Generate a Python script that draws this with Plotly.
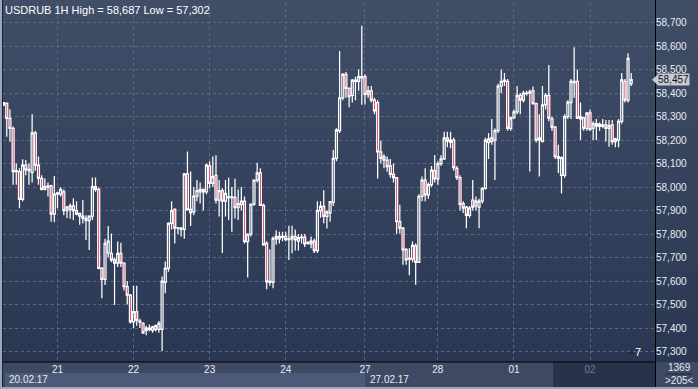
import plotly.graph_objects as go

# ---------------- data ----------------
opens = [58.350,58.356,58.292,58.250,58.066,58.066,57.948,58.094,58.070,58.063,
         58.231,58.094,58.037,57.990,58.000,58.005,57.885,57.970,57.970,57.980,
         57.900,57.905,57.920,57.900,57.888,57.867,57.857,57.857,57.877,58.002,
         57.990,57.654,57.607,57.720,57.718,57.690,57.676,57.718,57.676,57.576,
         57.540,57.427,57.470,57.430,57.420,57.390,57.400,57.390,57.395,57.395,
         57.395,57.595,57.654,57.846,57.905,57.825,57.820,57.820,58.056,57.905,
         57.895,57.962,57.980,57.990,57.980,58.090,58.016,58.050,57.945,57.985,
         57.940,57.955,57.958,57.956,57.913,57.925,57.940,57.768,57.800,57.928,
         58.030,58.060,57.922,57.760,57.600,57.595,57.780,57.780,57.786,57.790,
         57.776,57.780,57.790,57.770,57.785,57.787,57.760,57.758,57.770,57.730,
         57.900,57.918,57.875,57.890,57.935,58.122,58.240,58.380,58.480,58.420,
         58.390,58.450,58.450,58.465,58.470,58.395,58.410,58.370,58.360,58.150,
         58.130,58.115,58.090,58.054,58.040,57.853,57.825,57.735,57.693,57.693,
         57.750,57.680,57.960,58.030,57.967,58.010,58.070,58.035,58.100,58.120,
         58.209,58.200,58.200,58.080,58.040,57.930,57.915,57.880,57.945,57.920,
         57.915,57.940,57.995,58.190,58.195,58.200,58.240,58.430,58.450,58.450,
         58.250,58.296,58.320,58.390,58.370,58.398,58.400,58.410,58.355,58.200,
         58.195,58.350,58.390,58.290,58.255,58.130,58.050,58.050,58.300,58.360,
         58.445,58.450,58.290,58.295,58.250,58.316,58.250,58.270,58.268,58.258,
         58.265,58.250,58.265,58.193,58.200,58.280,58.450,58.370,58.440]
highs = [58.362,58.360,58.330,58.258,58.100,58.080,58.118,58.115,58.100,58.310,
         58.240,58.130,58.050,58.037,58.020,58.010,58.047,57.980,57.999,57.990,
         57.920,57.930,57.952,57.940,57.890,57.945,57.880,57.880,58.041,58.041,
         57.998,57.660,57.780,57.834,57.803,57.700,57.768,57.763,57.680,57.600,
         57.545,57.580,57.580,57.440,57.425,57.410,57.415,57.410,57.415,57.430,
         57.620,57.683,57.850,57.940,57.910,57.830,57.830,58.060,58.151,58.066,
         58.000,58.030,58.020,57.990,58.100,58.110,58.130,58.136,58.030,57.995,
         58.030,58.040,58.000,58.036,57.990,58.000,57.960,57.800,57.930,58.030,
         58.104,58.080,57.930,57.770,57.735,57.790,57.816,57.810,57.810,57.810,
         57.835,57.835,57.820,57.800,57.800,57.800,57.770,57.790,57.780,57.940,
         57.940,57.987,57.900,57.940,58.158,58.250,58.579,58.485,58.490,58.425,
         58.460,58.470,58.500,58.687,58.480,58.430,58.430,58.380,58.370,58.197,
         58.140,58.130,58.120,58.100,58.040,57.925,57.830,57.740,57.740,57.768,
         57.760,57.970,58.045,58.080,58.020,58.090,58.137,58.110,58.135,58.236,
         58.236,58.235,58.210,58.090,58.050,57.940,57.920,57.920,58.030,57.960,
         57.950,58.000,58.210,58.230,58.290,58.250,58.440,58.500,58.485,58.460,
         58.300,58.330,58.430,58.400,58.410,58.410,58.415,58.428,58.360,58.310,
         58.430,58.400,58.520,58.300,58.260,58.180,58.130,58.310,58.370,58.460,
         58.595,58.500,58.360,58.300,58.320,58.330,58.280,58.290,58.275,58.290,
         58.285,58.286,58.285,58.210,58.290,58.485,58.460,58.570,58.485]
lows = [58.345,58.214,58.193,58.010,58.010,57.910,57.940,58.050,58.010,58.020,
        58.070,58.010,57.985,57.985,57.960,57.853,57.850,57.910,57.960,57.880,
        57.868,57.865,57.860,57.880,57.840,57.845,57.775,57.732,57.860,57.980,
        57.650,57.527,57.583,57.700,57.680,57.498,57.660,57.660,57.560,57.500,
        57.420,57.400,57.410,57.400,57.375,57.370,57.385,57.380,57.385,57.380,
        57.302,57.548,57.640,57.820,57.760,57.800,57.790,57.780,57.900,57.834,
        57.880,57.940,57.930,57.900,57.970,57.995,58.000,57.930,57.875,57.720,
        57.875,57.860,57.810,57.866,57.860,57.900,57.760,57.615,57.790,57.920,
        58.020,57.920,57.750,57.565,57.580,57.570,57.755,57.760,57.770,57.770,
        57.690,57.718,57.730,57.730,57.760,57.745,57.755,57.740,57.720,57.720,
        57.870,57.846,57.824,57.852,57.920,58.110,58.230,58.370,58.380,58.340,
        58.360,58.370,58.410,58.350,58.352,58.380,58.360,58.310,58.037,58.100,
        58.080,58.065,58.040,58.020,57.800,57.803,57.670,57.670,57.625,57.680,
        57.584,57.680,57.940,57.940,57.950,58.000,58.020,58.010,58.090,58.115,
        58.170,58.165,58.070,58.030,57.900,57.890,57.825,57.870,57.900,57.900,
        57.825,57.930,57.990,58.120,58.180,58.030,58.230,58.400,58.430,58.240,
        58.240,58.290,58.310,58.310,58.360,58.390,58.066,58.350,58.190,58.045,
        58.190,58.330,58.280,58.240,58.120,58.060,57.973,58.040,58.290,58.290,
        58.380,58.290,58.200,58.240,58.240,58.240,58.200,58.200,58.240,58.250,
        58.194,58.172,58.180,58.170,58.170,58.270,58.360,58.360,58.430]
closes = [58.360,58.292,58.250,58.066,58.070,57.948,58.094,58.073,58.075,58.231,
          58.094,58.037,57.990,58.002,58.005,57.885,57.970,57.975,57.990,57.900,
          57.915,57.920,57.900,57.885,57.877,57.877,57.867,57.877,58.002,57.990,
          57.654,57.607,57.760,57.770,57.690,57.676,57.718,57.676,57.576,57.540,
          57.427,57.470,57.433,57.425,57.380,57.400,57.395,57.405,57.410,57.420,
          57.600,57.654,57.846,57.900,57.825,57.826,57.825,58.056,57.903,57.890,
          57.962,57.985,57.990,57.980,58.094,58.016,58.045,57.945,57.985,57.940,
          57.973,57.958,57.955,57.913,57.930,57.940,57.768,57.800,57.928,58.030,
          58.060,57.922,57.754,57.597,57.595,57.782,57.790,57.790,57.790,57.776,
          57.780,57.790,57.775,57.785,57.787,57.758,57.765,57.770,57.730,57.900,
          57.918,57.875,57.895,57.938,58.122,58.243,58.380,58.480,58.420,58.385,
          58.455,58.455,58.470,58.470,58.395,58.410,58.370,58.324,58.150,58.122,
          58.115,58.087,58.054,58.040,57.853,57.825,57.733,57.690,57.698,57.752,
          57.680,57.960,58.030,57.967,58.010,58.072,58.035,58.100,58.120,58.209,
          58.196,58.190,58.083,58.040,57.926,57.910,57.880,57.912,57.915,57.940,
          57.940,57.995,58.200,58.205,58.210,58.240,58.430,58.450,58.455,58.250,
          58.295,58.320,58.390,58.370,58.400,58.400,58.405,58.355,58.200,58.210,
          58.350,58.390,58.293,58.255,58.130,58.122,58.125,58.300,58.362,58.450,
          58.450,58.293,58.300,58.250,58.315,58.245,58.270,58.260,58.258,58.265,
          58.250,58.262,58.193,58.205,58.280,58.456,58.370,58.548,58.457]

day_ticks = [17, 41, 65, 89, 114, 137, 161, 185]
day_labels = ["21", "22", "23", "24", "27", "28", "01", "<span style='color:#6f7d97'>02</span>"]
price_ticks = [57.3, 57.4, 57.5, 57.6, 57.7, 57.8, 57.9, 58.0, 58.1, 58.2, 58.3, 58.4, 58.5, 58.6, 58.7]
price_labels = ["57,300", "57,400", "57,500", "57,600", "57,700", "57,800", "57,900", "58,000",
                "58,100", "58,200", "58,300", "58,400", "58,500", "58,600", "58,700"]
title_text = "USDRUB 1H High = 58,687 Low = 57,302"
last_price = closes[-1]
last_label = "58,457"

x = list(range(len(opens)))

# ---------------- figure ----------------
W, H = 698, 389
ML, MR, MT, MB = 3, 43, 3, 27
PW, PH = W - ML - MR, H - MT - MB

def px(p):   # pixel x -> paper x
    return (p - ML) / PW

def py(p):   # pixel y -> paper y
    return (H - MB - p) / PH

FONT = "Liberation Sans, Arial, sans-serif"

fig = go.Figure()
fig.add_trace(go.Candlestick(
    x=x, open=opens, high=highs, low=lows, close=closes,
    increasing=dict(line=dict(color="#ffffff", width=1.25), fillcolor="rgba(0,0,0,0)"),
    decreasing=dict(line=dict(color="#ffffff", width=1.25), fillcolor="#e8103f"),
    whiskerwidth=0, hoverinfo="skip", showlegend=False,
))

shapes = []
# gradient background (styling only)
top_c = (64, 78, 104)
bot_c = (42, 55, 82)
n = 36
for k in range(n):
    t = (k + 0.5) / n
    c = tuple(int(round(top_c[j] + (bot_c[j] - top_c[j]) * t)) for j in range(3))
    y0p = (H - MB) * k / n
    y1p = (H - MB) * (k + 1) / n
    shapes.append(dict(type="rect", xref="paper", yref="paper", layer="below",
                       x0=px(0), x1=px(W), y0=py(y1p), y1=py(y0p) + 0.001,
                       fillcolor="rgb(%d,%d,%d)" % c, line=dict(width=0)))
# bottom strip
shapes.append(dict(type="rect", xref="paper", yref="paper", layer="below",
                   x0=px(0), x1=px(W), y0=py(H), y1=py(H - MB),
                   fillcolor="#3e4a64", line=dict(width=0)))
shapes.append(dict(type="rect", xref="paper", yref="paper", layer="below",
                   x0=px(5), x1=px(365), y0=py(387), y1=py(373),
                   fillcolor="#4c5a77", line=dict(width=0)))
shapes.append(dict(type="rect", xref="paper", yref="paper", layer="below",
                   x0=px(553), x1=px(655), y0=py(388), y1=py(362),
                   fillcolor="#28324a", line=dict(width=0)))
# borders
shapes.append(dict(type="rect", xref="paper", yref="paper", layer="above",
                   x0=px(0), x1=px(2), y0=py(H), y1=py(0),
                   fillcolor="#9ba7bc", line=dict(width=0)))
shapes.append(dict(type="rect", xref="paper", yref="paper", layer="above",
                   x0=px(0), x1=px(W), y0=py(H), y1=py(387),
                   fillcolor="#9ba7bc", line=dict(width=0)))
shapes.append(dict(type="line", xref="paper", yref="paper", layer="above",
                   x0=px(2.5), x1=px(2.5), y0=py(387), y1=py(0),
                   line=dict(color="#1b2232", width=1)))
# axis separator lines
shapes.append(dict(type="line", xref="paper", yref="paper", layer="above",
                   x0=px(655.5), x1=px(655.5), y0=py(387), y1=py(0),
                   line=dict(color="#000000", width=1)))
shapes.append(dict(type="line", xref="paper", yref="paper", layer="above",
                   x0=px(3), x1=px(655.5), y0=py(362), y1=py(362),
                   line=dict(color="#000000", width=1)))
shapes.append(dict(type="line", xref="paper", yref="paper", layer="above",
                   x0=px(665), x1=px(692), y0=py(374), y1=py(374),
                   line=dict(color="#202a3d", width=1)))
# current price arrow
d = 5.5 / 235.0
shapes.append(dict(type="path", xref="paper", yref="y", layer="above",
                   path="M %f,%f L %f,%f L %f,%f Z" % (px(652), last_price, px(658), last_price + d,
                                                      px(658), last_price - d),
                   fillcolor="#c6cad3", line=dict(width=0)))
# small shift marker
shapes.append(dict(type="path", xref="paper", yref="paper", layer="above",
                   path="M %f,%f L %f,%f L %f,%f Z" % (px(627), py(354), px(633), py(351),
                                                      px(633), py(354)),
                   fillcolor="#1c2436", line=dict(width=0)))

ann = []
ann.append(dict(xref="paper", yref="paper", x=px(3), y=py(2), xanchor="left", yanchor="top",
                text=title_text, showarrow=False, font=dict(family=FONT, size=11, color="#ffffff")))
ann.append(dict(xref="paper", yref="paper", x=px(7), y=py(380), xanchor="left", yanchor="middle",
                text="20.02.17", showarrow=False, font=dict(family=FONT, size=10, color="#e8ecf3")))
ann.append(dict(xref="paper", yref="paper", x=px(368), y=py(380), xanchor="left", yanchor="middle",
                text="27.02.17", showarrow=False, font=dict(family=FONT, size=10, color="#e8ecf3")))
ann.append(dict(xref="paper", yref="paper", x=px(679), y=py(367.5), xanchor="center", yanchor="middle",
                text="1369", showarrow=False, font=dict(family=FONT, size=10, color="#e8ecf3")))
ann.append(dict(xref="paper", yref="paper", x=px(679), y=py(380.5), xanchor="center", yanchor="middle",
                text="&gt;205&lt;", showarrow=False, font=dict(family=FONT, size=10, color="#e8ecf3")))
ann.append(dict(xref="paper", yref="paper", x=px(638), y=py(352), xanchor="center", yanchor="middle",
                text="7", showarrow=False, font=dict(family=FONT, size=11, color="#ffffff")))
ann.append(dict(xref="paper", yref="y", x=px(657), y=last_price, xanchor="left", yanchor="middle",
                text=last_label, showarrow=False, bgcolor="#c6cad3", borderpad=0,
                font=dict(family=FONT, size=10, color="#111111")))

fig.update_layout(
    width=W, height=H, autosize=False,
    margin=dict(l=ML, r=MR, t=MT, b=MB, pad=0),
    paper_bgcolor="#3e4a64", plot_bgcolor="rgba(0,0,0,0)",
    shapes=shapes, annotations=ann, showlegend=False, boxgap=0.12,
    xaxis=dict(range=[-0.19, 205.5], tickmode="array", tickvals=day_ticks, ticktext=day_labels,
               showgrid=True, gridcolor="#5a6884", griddash="3px,3px", gridwidth=1,
               zeroline=False, showline=False, ticks="", rangeslider=dict(visible=False),
               tickfont=dict(family=FONT, size=10, color="#e8ecf3"), fixedrange=True),
    yaxis=dict(range=[57.2557, 58.7834], side="right", tickmode="array",
               tickvals=price_ticks, ticktext=price_labels,
               showgrid=True, gridcolor="#5a6884", griddash="3px,3px", gridwidth=1,
               zeroline=False, showline=False, ticks="",
               tickfont=dict(family=FONT, size=10, color="#e8ecf3"), fixedrange=True),
)

fig.write_html("out.html", config={"displayModeBar": False},
               post_script="document.body.style.margin='0';document.body.style.padding='0';"
                           "document.documentElement.style.overflow='hidden';")
